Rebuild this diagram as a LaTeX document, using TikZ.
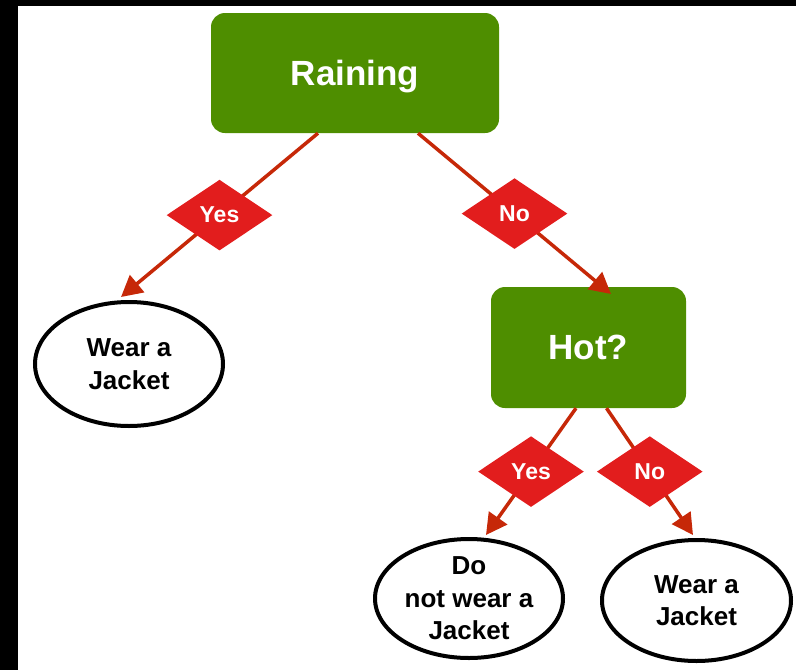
\documentclass[tikz,border=0pt]{standalone}
\usepackage{fontspec}
\setmainfont{Liberation Sans}
\usetikzlibrary{shapes.geometric,arrows.meta}
\definecolor{boxgreen}{RGB}{78,142,0}
\definecolor{diared}{RGB}{226,29,29}
\definecolor{arrred}{RGB}{198,40,8}
\begin{document}
\begin{tikzpicture}[x=1pt,y=-1pt,
  decision/.style={rectangle, rounded corners=14pt, fill=boxgreen, text=white,
    font=\bfseries\fontsize{35}{42}\selectfont, inner sep=0pt, text depth=0pt},
  answer/.style={ellipse, draw=black, line width=4pt, fill=white,
    font=\bfseries\fontsize{26}{32.5}\selectfont, align=center, inner sep=0pt},
  dia/.style={diamond, fill=diared, text=white,
    font=\bfseries\fontsize{23}{27}\selectfont, minimum width=107pt,
    minimum height=72pt, inner sep=0pt},
  arr/.style={draw=arrred, line width=3.5pt, -{Triangle[length=21pt,width=22pt]}}]
\useasboundingbox (0,0) rectangle (796,670);
\fill[black] (0,0) rectangle (18,670);
\fill[black] (0,0) rectangle (796,6);

\node[decision, minimum width=288pt, minimum height=120pt] (rain) at (355,73) {Raining};
\node[decision, minimum width=195pt, minimum height=121pt] (hot) at (588.5,347.5) {Hot?};
\node[answer, minimum width=188pt, minimum height=124pt] (wl) at (129,364) {Wear a\\Jacket};
\node[answer, minimum width=188pt, minimum height=119pt] (dn) at (469,598.5) {Do\\not wear a\\Jacket};
\node[answer, minimum width=189pt, minimum height=121pt] (wr) at (696.5,600.5) {Wear a\\Jacket};

\coordinate (a1s) at ([xshift=-37pt]rain.south);
\coordinate (a2s) at ([xshift=63pt]rain.south);
\coordinate (a3s) at ([xshift=-12.5pt]hot.south);
\coordinate (a4s) at ([xshift=18pt]hot.south);
\coordinate (a1t) at (121,297);
\coordinate (a2t) at (611,294);
\coordinate (a3t) at (486,535);
\coordinate (a4t) at (693,535);

\draw[arr] (a1s) -- node[dia] (y1) {Yes} (a1t);
\draw[arr] (a2s) -- node[dia] (n1) {No} (a2t);
\draw[arr] (a3s) -- node[dia] (y2) {Yes} (a3t);
\draw[arr] (a4s) -- node[dia] (n2) {No} (a4t);
\end{tikzpicture}
\end{document}
